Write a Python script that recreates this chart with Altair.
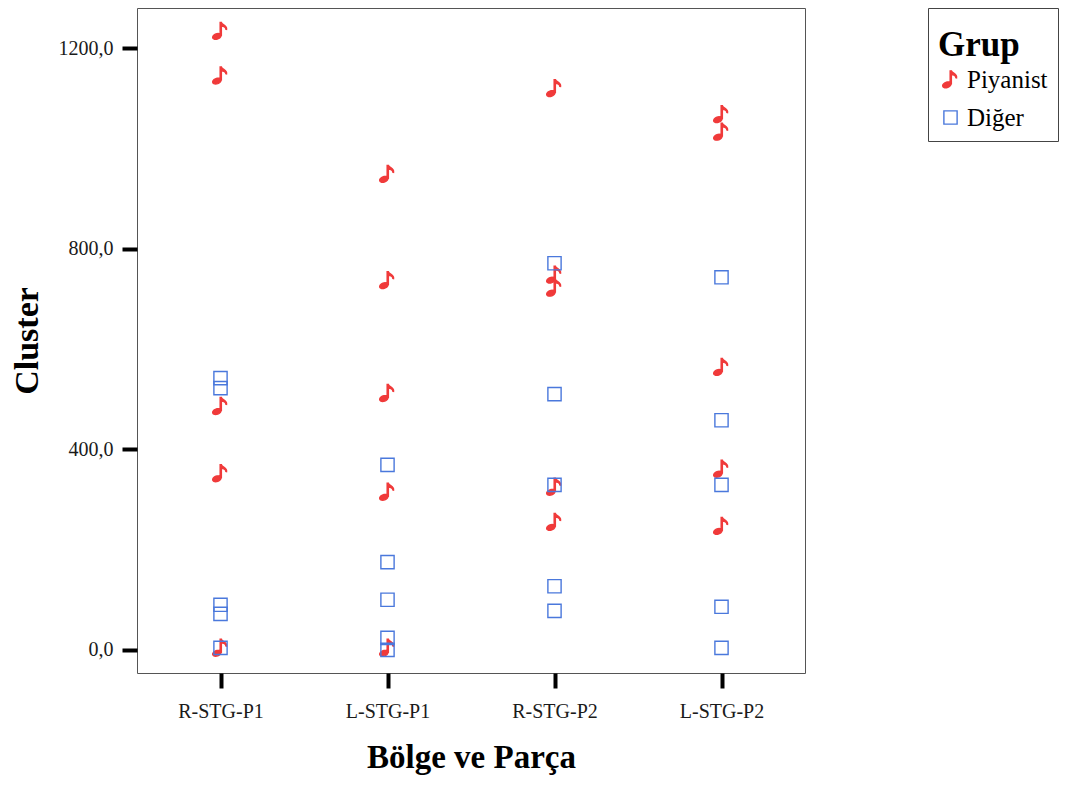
import math
import altair as alt
import pandas as pd

# ---- data ----
categories = ["R-STG-P1", "L-STG-P1", "R-STG-P2", "L-STG-P2"]
groups = ["Piyanist", "Diğer"]
piyanist_values = [
    [1234, 1145, 486, 352, 4],
    [949, 737, 512, 315, 4],
    [1120, 748, 722, 325, 255],
    [1068, 1033, 564, 361, 247],
]
diger_values = [
    [542, 522, 90, 72, 4],
    [369, 175, 100, 24, 0],
    [771, 510, 329, 127, 78],
    [743, 458, 329, 86, 4],
]
y_ticks = [0, 400, 800, 1200]

rows = []
for cat, vals in zip(categories, piyanist_values):
    for v in vals:
        rows.append({"region": cat, "value": v, "group": "Piyanist"})
for cat, vals in zip(categories, diger_values):
    for v in vals:
        rows.append({"region": cat, "value": v, "group": "Diğer"})
df = pd.DataFrame(rows)


# ---- music-note symbol path in the unit [-1,1] box ----
def note_path():
    cx, cy, rx, ry, rot = -0.42, 0.62, 0.5, 0.31, math.radians(-20)
    pts = []
    for i in range(24):
        t = 2 * math.pi * i / 24
        x = rx * math.cos(t)
        y = ry * math.sin(t)
        xr = cx + x * math.cos(rot) - y * math.sin(rot)
        yr = cy + x * math.sin(rot) + y * math.cos(rot)
        pts.append(f"{xr:.3f},{yr:.3f}")
    head = "M" + " L".join(pts) + " Z"
    stem = "M-0.04,0.58 L-0.04,-1 L0.1,-1 L0.1,0.5 Z"
    flag = "M0.1,-1 C0.2,-0.7 0.78,-0.68 0.7,-0.2 L0.62,-0.22 C0.6,-0.5 0.35,-0.55 0.1,-0.58 Z"
    return head + " " + stem + " " + flag


NOTE = note_path()
SERIF = "Liberation Serif"

chart = (
    alt.Chart(df)
    .mark_point(filled=False, strokeWidth=1.4, opacity=1)
    .encode(
        x=alt.X(
            "region:N",
            scale=alt.Scale(type="point", domain=categories, padding=0.5),
            axis=alt.Axis(
                title="Bölge ve Parça",
                labelAngle=0,
                domain=False,
                grid=False,
                ticks=True,
                tickSize=15,
                tickWidth=4,
                tickColor="#000000",
                labelPadding=13,
                labelFont=SERIF,
                labelFontSize=20,
                labelColor="#1a1a1a",
                titleFont=SERIF,
                titleFontSize=33,
                titleFontWeight="bold",
                titleColor="#000000",
                titlePadding=20,
            ),
        ),
        y=alt.Y(
            "value:Q",
            scale=alt.Scale(domain=[-46, 1280], nice=False, zero=False),
            axis=alt.Axis(
                title="Cluster",
                values=y_ticks,
                labelExpr="replace(format(datum.value, '.1f'), '.', ',')",
                domain=False,
                grid=False,
                tickSize=15,
                tickWidth=4,
                tickColor="#000000",
                labelPadding=9,
                labelFont=SERIF,
                labelFontSize=20,
                labelColor="#1a1a1a",
                titleFont=SERIF,
                titleFontSize=34,
                titleFontWeight="bold",
                titleColor="#000000",
                titlePadding=14,
            ),
        ),
        shape=alt.Shape(
            "group:N",
            scale=alt.Scale(domain=groups, range=[NOTE, "square"]),
            legend=alt.Legend(title="Grup"),
        ),
        fill=alt.Fill(
            "group:N",
            scale=alt.Scale(domain=groups, range=["#f03a3a", "transparent"]),
            legend=alt.Legend(title="Grup"),
        ),
        stroke=alt.Stroke(
            "group:N",
            scale=alt.Scale(domain=groups, range=["#f03a3a", "#4a78dc"]),
            legend=alt.Legend(title="Grup"),
        ),
        size=alt.Size(
            "group:N",
            scale=alt.Scale(domain=groups, range=[300, 175]),
            legend=alt.Legend(title="Grup"),
        ),
    )
    .properties(
        width=668,
        height=665,
        autosize=alt.AutoSizeParams(type="none"),
        padding={"left": 129, "top": 0, "right": 257, "bottom": 102},
    )
    .configure_view(stroke="#555555", strokeWidth=1)
    .configure_legend(
        orient="none",
        legendX=791,
        legendY=0,
        padding=10,
        strokeColor="#444444",
        titleFont=SERIF,
        titleFontSize=35,
        titleFontWeight="bold",
        titleColor="#000000",
        titleBaseline="line-top",
        titleLineHeight=56,
        titlePadding=14,
        labelFont=SERIF,
        labelFontSize=25,
        labelColor="#000000",
        labelOffset=4,
        rowPadding=12,
        symbolStrokeWidth=1.4,
    )
)

chart.save("out.html", embed_options={"renderer": "svg", "actions": False})
